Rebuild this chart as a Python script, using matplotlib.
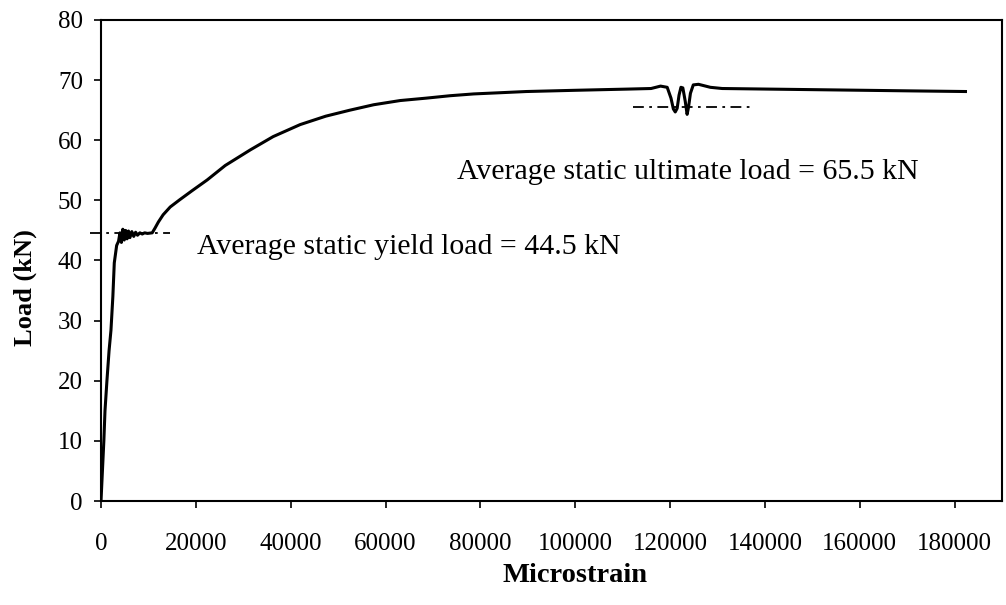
import matplotlib
matplotlib.use("Agg")
import matplotlib.pyplot as plt

plt.rcParams['font.family'] = ['Liberation Serif', 'DejaVu Serif']

# Load-strain record (microstrain, kN)
strain = [0, 300, 600, 840, 1250, 1700, 2100, 2500, 2800, 3300, 3700, 4000,
          4300, 4600, 4900, 5200, 5500, 5800, 6100, 6500, 6900, 7300, 7700,
          8200, 8700, 9200, 9800, 10800, 11400, 12100, 13100, 14600, 16600,
          19200, 22400, 26200, 31500, 36300, 42000, 47400, 52500, 57500,
          63100, 68600, 73600, 78600, 84200, 89700, 94800, 99800, 105300,
          110900, 116000, 118000, 119400, 120200, 120700, 121100, 121500,
          121900, 122300, 122700, 123200, 123600, 123900, 124300, 124900,
          126000, 127000, 128500, 131000, 141000, 151200, 161300, 171400,
          182300]
load = [0, 5, 10, 15, 20, 25, 28.4, 34, 39.6, 42.5, 43.2, 44.6,
        43.0, 45.2, 43.4, 45.0, 43.6, 44.9, 43.8, 44.8, 44.0, 44.7, 44.2,
        44.6, 44.4, 44.6, 44.5, 44.6, 45.4, 46.4, 47.6, 48.9, 50.1,
        51.6, 53.4, 55.8, 58.4, 60.6, 62.6, 64.0, 65.0, 65.9,
        66.6, 67.0, 67.4, 67.7, 67.9, 68.1, 68.2, 68.3, 68.4,
        68.5, 68.6, 69.0, 68.8, 67.0, 65.2, 64.7, 65.3,
        67.5, 68.8, 68.7, 66.5, 64.3, 65.5, 67.8, 69.2,
        69.3, 69.1, 68.8, 68.6, 68.5, 68.4, 68.3, 68.2,
        68.1]

yield_load = 44.5
ultimate_load = 65.5
yield_span = (-2300, 14500)
ultimate_span = (112200, 137500)

x_ticks = [0, 20000, 40000, 60000, 80000, 100000, 120000, 140000, 160000, 180000]
y_ticks = [0, 10, 20, 30, 40, 50, 60, 70, 80]

fig = plt.figure(figsize=(10.06, 6.05), dpi=100)
ax = fig.add_axes([0.1004, 0.1719, 0.8956, 0.7951])

ax.plot(strain, load, color='black', lw=2.2, solid_joinstyle='round')
ax.plot(yield_span, [yield_load] * 2, color='black', lw=1.3,
        ls=(0, (6, 3, 1.5, 3)), clip_on=False)
ax.plot(ultimate_span, [ultimate_load] * 2, color='black', lw=1.3,
        ls=(0, (6, 3, 1.5, 3)), clip_on=False)

ax.text(20300, 42.3, 'Average static yield load = 44.5 kN', fontsize=21.5,
        va='center', ha='left')
ax.text(75000, 54.7, 'Average static ultimate load = 65.5 kN', fontsize=21.5,
        va='center', ha='left')

ax.set_xlim(0, 190000)
ax.set_ylim(0, 80)
ax.set_xticks(x_ticks)
ax.set_yticks(y_ticks)
ax.set_xticklabels([str(v) for v in x_ticks])
ax.tick_params(axis='both', direction='out', length=5, width=1.2,
               labelsize=18)
ax.tick_params(axis='x', pad=18)
ax.tick_params(axis='y', pad=8)
for s in ax.spines.values():
    s.set_linewidth(1.5)

ax.set_xlabel('Microstrain', fontsize=20.5, fontweight='bold', va='center')
ax.set_ylabel('Load (kN)', fontsize=19, fontweight='bold', va='center')
ax.xaxis.set_label_coords(0.526, -0.154)
ax.yaxis.set_label_coords(-0.0843, 0.443)

fig.savefig('out.png', dpi=100)
